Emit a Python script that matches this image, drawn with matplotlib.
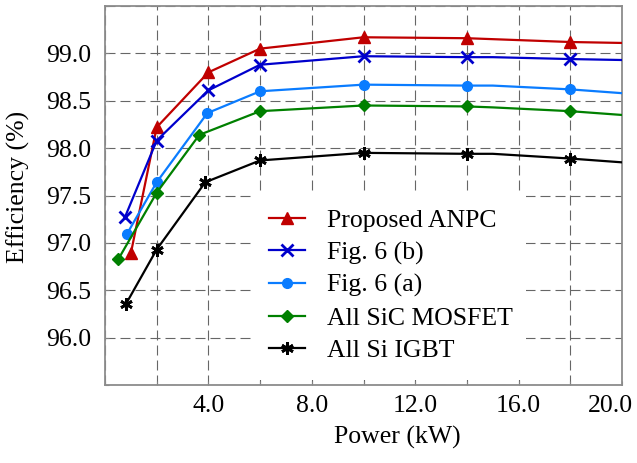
import numpy as np
import matplotlib
matplotlib.use("Agg")
import matplotlib.pyplot as plt
from matplotlib.ticker import MultipleLocator, FuncFormatter
from matplotlib.patches import Rectangle

# efficiency curves vs output power
labels = ["Proposed ANPC", "Fig. 6 (b)", "Fig. 6 (a)", "All SiC MOSFET", "All Si IGBT"]

power_anpc = [1.0, 2, 4, 6, 10, 14, 15, 18, 20]
eff_anpc = [96.89, 98.22, 98.80, 99.05, 99.17, 99.16, 99.15, 99.12, 99.11]

power_6b = [0.77, 2, 4, 6, 10, 14, 15, 18, 20]
eff_6b = [97.27, 98.08, 98.61, 98.88, 98.97, 98.96, 98.96, 98.94, 98.93]

power_6a = [0.84, 2, 3.96, 6, 10, 14, 15, 18, 20]
eff_6a = [97.09, 97.64, 98.37, 98.60, 98.67, 98.66, 98.66, 98.62, 98.58]

power_sic = [0.52, 2, 3.65, 6, 10, 14, 15, 18, 20]
eff_sic = [96.83, 97.53, 98.14, 98.39, 98.45, 98.44, 98.43, 98.39, 98.35]

power_si = [0.8, 2, 3.88, 6, 10, 14, 15, 18, 20]
eff_si = [96.35, 96.93, 97.64, 97.87, 97.95, 97.94, 97.94, 97.89, 97.85]

xtick_labels = [4, 8, 12, 16, 20]

plt.rcParams['font.family'] = ['Liberation Serif', 'DejaVu Serif']
plt.rcParams['font.size'] = 18.5

fig = plt.figure(figsize=(6.37, 4.63), dpi=100)
fig.subplots_adjust(left=105/637, right=622/637, top=1-6/463, bottom=1-385/463)
ax = fig.add_subplot(111)

marks = [0, 1, 2, 3, 4, 5, 7]
series = [
    (power_anpc, eff_anpc, '#c00000', '^', 9, {}),
    (power_6b, eff_6b, '#0000cc', 'x', 8, {'markeredgewidth': 2}),
    (power_6a, eff_6a, '#0a7cff', 'o', 7, {}),
    (power_sic, eff_sic, '#008000', 'D', 6.5, {}),
    (power_si, eff_si, 'black', (6, 2, 0), 9, {'markeredgewidth': 2}),
]
for (px, py, col, mk, ms, extra), lab in zip(series, labels):
    ax.plot(px, py, color=col, lw=1.6, marker=mk, ms=ms, markevery=marks,
            label=lab, zorder=3, **extra)

ax.set_xlim(0, 20)
ax.set_ylim(95.5, 99.5)
ax.xaxis.set_major_locator(MultipleLocator(2))
# last label is drawn separately, pulled in from the right edge
ax.xaxis.set_major_formatter(FuncFormatter(
    lambda v, p: f"{v:.1f}" if int(round(v)) in xtick_labels[:-1] else ""))
ax.annotate(f"{xtick_labels[-1]:.1f}", xy=(xtick_labels[-1], 0),
            xycoords=('data', 'axes fraction'), xytext=(-8, -7),
            textcoords='offset points', ha='center', va='top')
ax.yaxis.set_major_locator(MultipleLocator(0.5))
ax.yaxis.set_major_formatter(FuncFormatter(lambda v, p: f"{v:.1f}" if 95.9 < v < 99.1 else ""))

ax.grid(True, color='0.4', lw=0.8, linestyle=(0, (9, 4.5)), zorder=1)
ax.tick_params(direction='in', length=3, width=0.8, color='0.5')
ax.tick_params(axis='y', pad=10)
ax.tick_params(axis='x', pad=7)
for s in ax.spines.values():
    s.set_color('0.55')
    s.set_linewidth(1.3)

ax.set_xlabel("Power (kW)")
ax.set_ylabel("Efficiency (%)")
ax.xaxis.set_label_coords(0.565, -0.108)
ax.yaxis.set_label_coords(-0.145, 0.522)

# white box behind the legend hides the grid
ax.add_patch(Rectangle((0.286, 0.013), 0.528, 0.488, transform=ax.transAxes,
                       facecolor='white', edgecolor='none', zorder=2))
leg = ax.legend(loc='upper left', bbox_to_anchor=(0.317, 0.464), frameon=False,
                borderaxespad=0, borderpad=0, handlelength=1.4, handletextpad=0.85,
                labelspacing=0.36)
leg.set_zorder(5)

fig.savefig("out.png", dpi=100)
